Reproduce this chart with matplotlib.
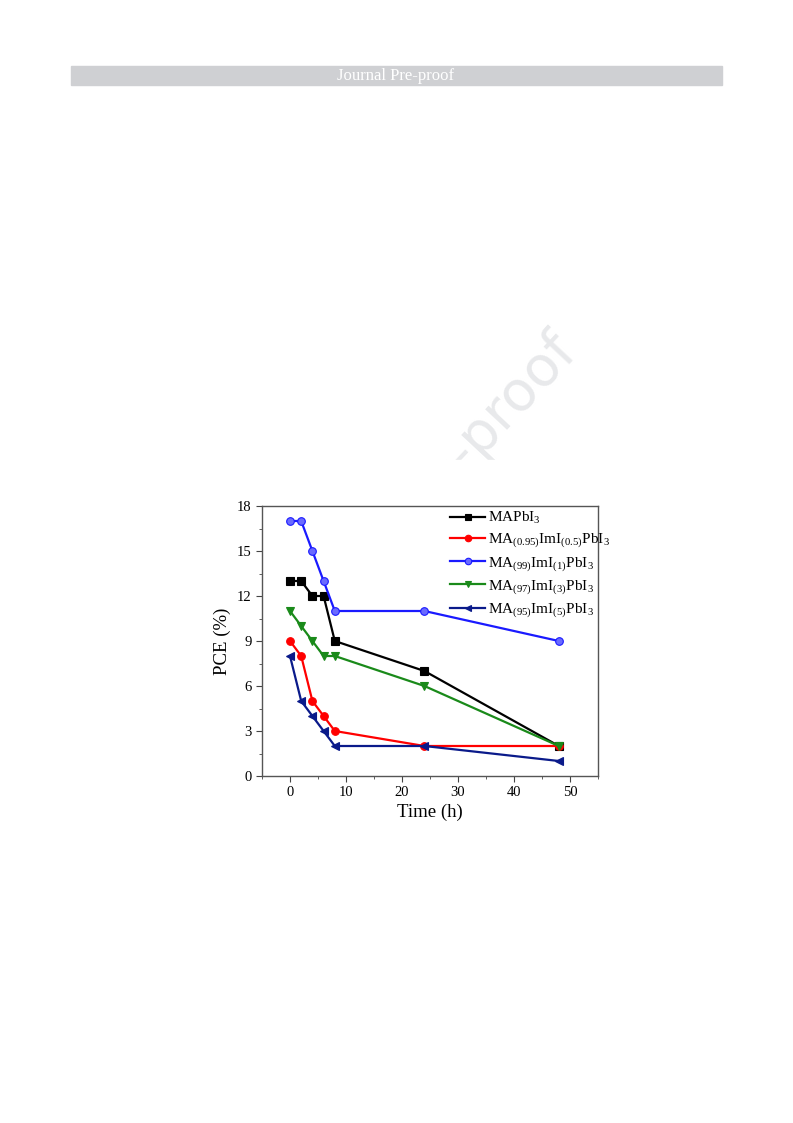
import matplotlib.pyplot as plt
from matplotlib.ticker import MultipleLocator
from matplotlib.patches import Rectangle

plt.rcParams['font.family'] = ['Liberation Serif', 'DejaVu Serif']
plt.rcParams['mathtext.fontset'] = 'custom'
plt.rcParams['mathtext.rm'] = 'Liberation Serif'
plt.rcParams['mathtext.it'] = 'Liberation Serif'

# data
time_h = [0, 2, 4, 6, 8, 24, 48]
mapbi3 = [13, 13, 12, 12, 9, 7, 2]
ma095 = [9, 8, 5, 4, 3, 2, 2]
ma99 = [17, 17, 15, 13, 11, 11, 9]
ma97 = [11, 10, 9, 8, 8, 6, 2]
ma95 = [8, 5, 4, 3, 2, 2, 1]

labels = ['MAPbI$_3$',
          'MA$_{(0.95)}$ImI$_{(0.5)}$PbI$_3$',
          'MA$_{(99)}$ImI$_{(1)}$PbI$_3$',
          'MA$_{(97)}$ImI$_{(3)}$PbI$_3$',
          'MA$_{(95)}$ImI$_{(5)}$PbI$_3$']
colors = ['black', '#ff0000', '#1a1aff', '#1a8a1a', '#0a1a8a']
faces = ['black', '#ff0000', '#6a6aff', '#1a8a1a', '#0a1a8a']
markers = ['s', 'o', 'o', 'v', '<']
series = [mapbi3, ma095, ma99, ma97, ma95]

W, H = 793, 1123
fig = plt.figure(figsize=(W / 100, H / 100), dpi=100)

# header bar
fig.patches.append(Rectangle((71 / W, 1 - 85 / H), (722 - 71) / W, 19 / H,
                             transform=fig.transFigure, color='#cfd0d3', zorder=0))
fig.text(396 / W, 1 - 75.5 / H, 'Journal Pre-proof', color='white', fontsize=12,
         ha='center', va='center', zorder=1)

# watermark
fig.text(412 / W, 1 - 514 / H, 'Journal Pre-proof', color='#e8e9eb', fontsize=40,
         family='DejaVu Sans', rotation=47, ha='center', va='center', zorder=0)

# white image area of the figure covering watermark
fig.patches.append(Rectangle((180 / W, 1 - 840 / H), 440 / W, 380 / H,
                             transform=fig.transFigure, color='white', zorder=0.5))

ax = fig.add_axes([262 / W, 1 - 776 / H, 336 / W, 270 / H])
ax.set_zorder(2)
ax.patch.set_alpha(0)

for y, c, f, m, lab in zip(series, colors, faces, markers, labels):
    ax.plot(time_h, y, color=c, marker=m, markersize=5.5, linewidth=1.6,
            markerfacecolor=f, markeredgecolor=c, markeredgewidth=0.8, label=lab)

ax.set_xlim(-5, 55)
ax.set_ylim(0, 18)
ax.xaxis.set_major_locator(MultipleLocator(10))
ax.xaxis.set_minor_locator(MultipleLocator(5))
ax.yaxis.set_major_locator(MultipleLocator(3))
ax.yaxis.set_minor_locator(MultipleLocator(1.5))
ax.tick_params(which='both', direction='out', labelsize=10.5, color='#444444')
ax.tick_params(which='major', length=4)
ax.tick_params(which='minor', length=2.5)
for s in ax.spines.values():
    s.set_color('#555555')
    s.set_linewidth(1.0)

ax.set_xlabel('Time (h)', fontsize=13.5, labelpad=3)
ax.set_ylabel('PCE (%)', fontsize=13.5, labelpad=4)

ax.legend(loc='upper left', bbox_to_anchor=(450 / W, 1 - 510 / H),
          bbox_transform=fig.transFigure, frameon=False, fontsize=11,
          handlelength=2.3, handletextpad=0.2, labelspacing=0.36,
          markerscale=0.85, borderaxespad=0, borderpad=0)

fig.savefig('out.png', dpi=100)
